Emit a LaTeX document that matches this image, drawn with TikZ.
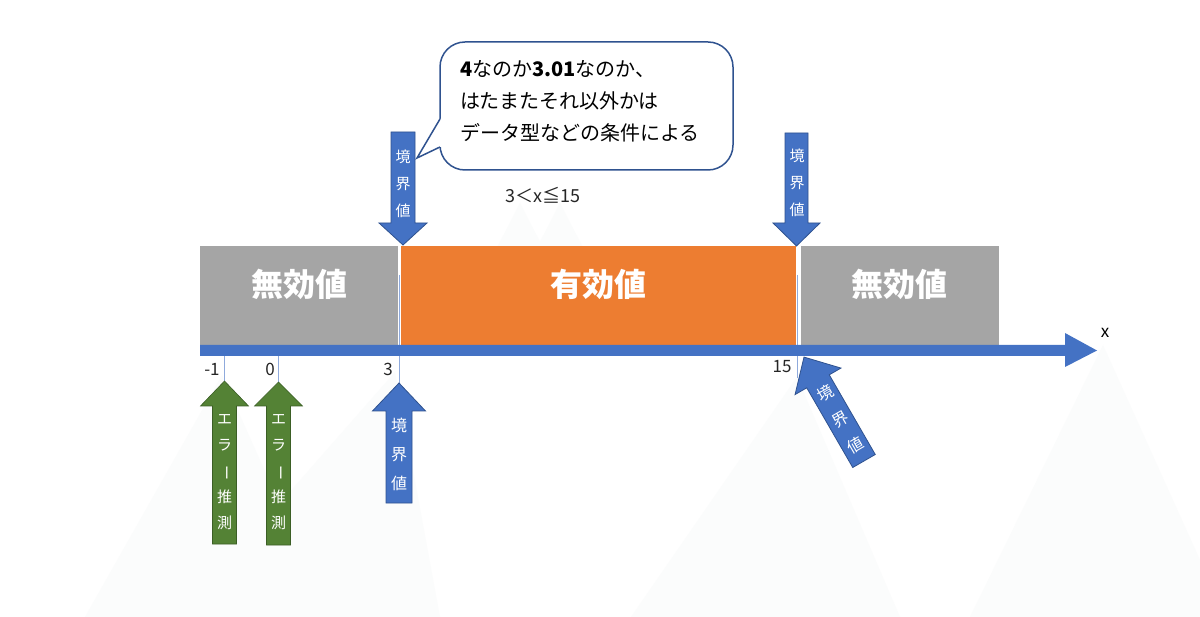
\documentclass[tikz,border=0pt]{standalone}
\usepackage{fontspec}
\setmainfont{Noto Sans CJK JP}
\usepackage{graphicx}
\definecolor{axblue}{HTML}{4472C4}
\definecolor{dkblue}{HTML}{2F528F}
\definecolor{gbox}{HTML}{A5A5A5}
\definecolor{obox}{HTML}{ED7D31}
\definecolor{agreen}{HTML}{548235}
\definecolor{dkgreen}{HTML}{3B5E25}
\definecolor{ticklc}{HTML}{8FAADC}
\definecolor{bgtri}{HTML}{FBFCFC}
\newcommand\arrowpath[4]{(-#2,0) -- (-#2,{-#1+#4}) -- (-#3,{-#1+#4}) -- (0,-#1) -- (#3,{-#1+#4}) -- (#2,{-#1+#4}) -- (#2,0) -- cycle}
\tikzset{
  valbox/.style={inner sep=0pt, text=white, font=\fontsize{32}{32}\selectfont\bfseries},
  blueshape/.style={fill=axblue, draw=dkblue, line width=0.8pt, line join=miter},
  greenshape/.style={fill=agreen, draw=dkgreen, line width=0.6pt, line join=miter},
  vtext/.style={text=white, align=center, inner sep=0pt},
  ticklab/.style={font=\fontsize{17}{17}\selectfont, text=black!85, inner sep=0pt},
  tickline/.style={draw=ticklc, line width=0.9pt},
  calloutbox/.style={draw=dkblue, line width=1.5pt, fill=white, rounded corners=25pt, minimum width=293pt, minimum height=128pt, inner sep=0pt},
}
\begin{document}
\begin{tikzpicture}[x=1pt,y=-1pt]
\useasboundingbox (0,0) rectangle (1200,617);
\fill[white] (0,0) rectangle (1200,617);
% faint background triangles
\fill[bgtri] (85,617) -- (222,375) -- (330,617) -- cycle;
\fill[bgtri] (180,617) -- (395,372) -- (440,617) -- cycle;
\fill[bgtri] (631,617) -- (797,377) -- (900,617) -- cycle;
\fill[bgtri] (970,617) -- (1103,345) -- (1200,560) -- (1200,617) -- cycle;
\fill[bgtri] (470,300) -- (520,203) -- (570,300) -- cycle;
\fill[bgtri] (510,300) -- (560,203) -- (610,300) -- cycle;
% value boxes
\fill[gbox] (200,246) rectangle (398,345);
\fill[obox] (401,246) rectangle (796,345);
\fill[gbox] (801,246) rectangle (999,345);
\node[valbox] (inv1) at (299,284) {無効値};
\node[valbox] (val) at (598,284) {有効値};
\node[valbox] (inv2) at (899,284) {無効値};
\draw[tickline] (399,275) -- (399,345);
\draw[tickline] (797,275) -- (797,345);
% axis
\fill[axblue] (200,345) -- (1065,345) -- (1065,333) -- (1097,350.5) -- (1065,367) -- (1065,356) -- (200,356) -- cycle;
\node[font=\fontsize{17}{17}\selectfont, inner sep=0pt] (xlab) at (1105,333) {x};
% ticks
\draw[tickline] (224.5,356) -- (224.5,381);
\draw[tickline] (278,356) -- (278,382);
\draw[tickline] (399,356) -- (399,383);
\draw[tickline] (797,356) -- (797,378);
\node[ticklab] (tm1) at (212,369) {-1};
\node[ticklab] (t0) at (270,369) {0};
\node[ticklab] (t3) at (388,369) {3};
\node[ticklab] (t15) at (782,367) {15};
% green arrows
\begin{scope}[shift={(224.5,544)}]
\draw[greenshape] \arrowpath{163}{12}{24}{25};
\node[vtext, font=\fontsize{15}{26}\selectfont] (ea1) at (0,-72) {エ\\ラ\\\rotatebox[origin=c]{-90}{ー}\\推\\測};
\end{scope}
\begin{scope}[shift={(278.5,545)}]
\draw[greenshape] \arrowpath{163}{12}{24}{24};
\node[vtext, font=\fontsize{15}{26}\selectfont] (ea2) at (0,-73) {エ\\ラ\\\rotatebox[origin=c]{-90}{ー}\\推\\測};
\end{scope}
% blue up arrow at 3
\begin{scope}[shift={(399,503)}]
\draw[blueshape] \arrowpath{120}{13}{26.5}{28};
\node[vtext, font=\fontsize{16}{29}\selectfont] (b3) at (0,-49) {境\\界\\値};
\end{scope}
% tilted arrow at 15
\begin{scope}[shift={(864,461)}, rotate=30]
\draw[blueshape] \arrowpath{120}{13}{26.5}{28};
\node[vtext, transform shape, font=\fontsize{16}{30}\selectfont] (b15) at (0,-48) {境\\界\\値};
\end{scope}
% top down arrows
\begin{scope}[shift={(403,132)}, rotate=180]
\draw[blueshape] \arrowpath{113}{12}{24}{22};
\end{scope}
\node[vtext, font=\fontsize{15}{27}\selectfont] (tl) at (403,184) {境\\界\\値};
\begin{scope}[shift={(796.5,133)}, rotate=180]
\draw[blueshape] \arrowpath{113}{11.5}{23.5}{23};
\end{scope}
\node[vtext, font=\fontsize{15}{27}\selectfont] (tr) at (797,183) {境\\界\\値};
% callout
\node[calloutbox] (co) at (586.5,106) {};
\fill[white] (442,119) -- (440,119) -- (417,158) -- (440,147) -- (442,147) -- cycle;
\draw[dkblue, line width=1.5pt, line join=miter] (440,119) -- (417,158) -- (440,147);
\node[anchor=north west, align=left, inner sep=0pt, font=\fontsize{20}{32}\selectfont] (cotext) at (460,60) {{\bfseries 4}なのか{\bfseries 3.01}なのか、\\はたまたそれ以外かは\\データ型などの条件による};
\node[font=\fontsize{18}{18}\selectfont, text=black!85, inner sep=0pt] (cond) at (543,195) {3＜x≦15};
\end{tikzpicture}
\end{document}
